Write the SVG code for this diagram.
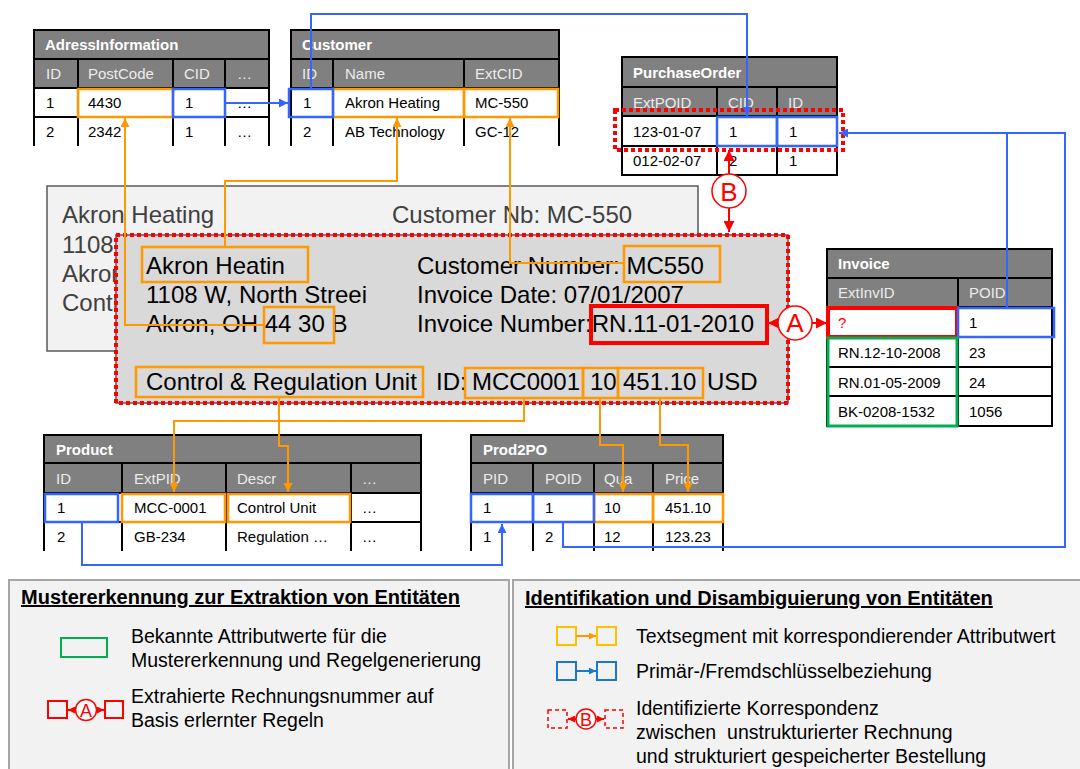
<svg xmlns="http://www.w3.org/2000/svg" width="1080" height="769" viewBox="0 0 1080 769">
<style>
text{font-family:"Liberation Sans",Arial,sans-serif}
.tt{font-size:15px;font-weight:bold;fill:#fff}
.th{font-size:15px;fill:#ececec}
.tc{font-size:15px;fill:#000}
.hd{fill:#808080}
.bd{fill:#fff}
.gl{stroke:#000;stroke-width:2;fill:none}
.or{fill:none;stroke:#ff9900;stroke-width:2.5}
.bl{fill:none;stroke:#3366ff;stroke-width:2.5}
.co{fill:none;stroke:#ff9900;stroke-width:2}
.cb{fill:none;stroke:#3366ff;stroke-width:2}
.cr{fill:none;stroke:#ff0000;stroke-width:2}
.doc{font-size:24px;fill:#000}
.bk{font-size:24px;fill:#404040}
.lg{font-size:19.5px;fill:#000}
.lt{font-size:20px;font-weight:bold;fill:#000;text-decoration:underline}
.dot{fill:none;stroke:#ff0000;stroke-width:4;stroke-dasharray:4 3}
</style>
<defs>
<marker id="ao" viewBox="0 0 10 10" refX="10" refY="5" markerWidth="9" markerHeight="9" markerUnits="userSpaceOnUse" orient="auto"><path d="M0,0 L10,5 L0,10 z" fill="#ff9900"/></marker>
<marker id="ab" viewBox="0 0 10 10" refX="10" refY="5" markerWidth="9" markerHeight="9" markerUnits="userSpaceOnUse" orient="auto"><path d="M0,0 L10,5 L0,10 z" fill="#3366ff"/></marker>
<marker id="ar" viewBox="0 0 10 10" refX="10" refY="5" markerWidth="11" markerHeight="11" markerUnits="userSpaceOnUse" orient="auto"><path d="M0,0 L10,5 L0,10 z" fill="#ff0000"/></marker>
<marker id="aos" viewBox="0 0 10 10" refX="10" refY="5" markerWidth="7" markerHeight="7" markerUnits="userSpaceOnUse" orient="auto"><path d="M0,0 L10,5 L0,10 z" fill="#ff9900"/></marker>
<marker id="abs" viewBox="0 0 10 10" refX="10" refY="5" markerWidth="7" markerHeight="7" markerUnits="userSpaceOnUse" orient="auto"><path d="M0,0 L10,5 L0,10 z" fill="#1f77c8"/></marker>
<marker id="ars" viewBox="0 0 10 10" refX="10" refY="5" markerWidth="7" markerHeight="7" markerUnits="userSpaceOnUse" orient="auto"><path d="M0,0 L10,5 L0,10 z" fill="#ff0000"/></marker>
</defs>
<rect width="1080" height="769" fill="#fff"/>

<!-- Invoice documents -->
<g id="invoice-doc-back">
<rect x="47" y="186" width="651" height="165" fill="#f2f2f2" stroke="#595959" stroke-width="1.5"/>
<text class="bk" x="62" y="223">Akron Heating</text>
<text class="bk" x="392" y="223">Customer Nb: MC-550</text>
<text class="bk" x="62" y="252.5">1108</text>
<text class="bk" x="62" y="282">Akron</text>
<text class="bk" x="62" y="311">Contr</text>
</g>
<g id="invoice-doc">
<rect x="116" y="235" width="672" height="168" fill="#d9d9d9" stroke="#595959" stroke-width="1.5"/>
<rect class="dot" x="116" y="235" width="672" height="168"/>
<text class="doc" x="146" y="273.5">Akron Heatin</text>
<text class="doc" x="146" y="302.5">1108 W, North Streei</text>
<text class="doc" x="146" y="332">Akron, OH 44 30 B</text>
<text class="doc" x="146" y="390">Control &amp; Regulation Unit</text>
<text class="doc" x="417" y="273.5">Customer Number: MC550</text>
<text class="doc" x="417" y="302.5">Invoice Date: 07/01/2007</text>
<text class="doc" x="417" y="332">Invoice Number:RN.11-01-2010</text>
<text class="doc" x="436" y="390">ID:</text>
<text class="doc" x="472" y="390">MCC0001</text>
<text class="doc" x="590" y="390">10</text>
<text class="doc" x="623" y="390">451.10</text>
<text class="doc" x="707" y="390">USD</text>
<rect class="or" x="142" y="247" width="166" height="35"/>
<rect class="or" x="264" y="307" width="70" height="36"/>
<rect class="or" x="136" y="367" width="287" height="30"/>
<rect class="or" x="624" y="246" width="96" height="36"/>
<rect class="or" x="465" y="368" width="118" height="30"/>
<rect class="or" x="583" y="368" width="35" height="30"/>
<rect class="or" x="618" y="368" width="85" height="30"/>
<rect x="591" y="306" width="176" height="37" fill="none" stroke="#ff0000" stroke-width="4"/>
</g>

<!-- AdressInformation -->
<g id="adressinformation">
<rect class="hd" x="34" y="30" width="235" height="58"/>
<rect class="bd" x="34" y="88" width="235" height="58"/>
<path class="gl" d="M34,146 V30 H269 V146 M34,59 H269 M34,88 H269 M34,117 H269 M78,59 V146 M173,59 V146 M225,59 V146"/>
<text class="tt" x="45" y="50">AdressInformation</text>
<text class="th" x="46" y="79">ID</text><text class="th" x="88" y="79">PostCode</text><text class="th" x="184" y="79">CID</text><text class="th" x="237" y="79">…</text>
<text class="tc" x="46" y="108">1</text><text class="tc" x="88" y="108">4430</text><text class="tc" x="185" y="108">1</text><text class="tc" x="237" y="108">…</text>
<text class="tc" x="46" y="137">2</text><text class="tc" x="88" y="137">2342</text><text class="tc" x="185" y="137">1</text><text class="tc" x="237" y="137">…</text>
<rect class="or" x="78" y="89" width="95" height="28"/>
<rect class="bl" x="173" y="89" width="52" height="28"/>
</g>

<!-- Customer -->
<g id="customer">
<rect class="hd" x="291" y="30" width="268" height="58"/>
<rect class="bd" x="291" y="88" width="268" height="58"/>
<path class="gl" d="M291,146 V30 H559 V146 M291,59 H559 M291,88 H559 M291,117 H559 M333,59 V146 M464,59 V146"/>
<text class="tt" x="302" y="50">Customer</text>
<text class="th" x="302" y="79">ID</text><text class="th" x="345" y="79">Name</text><text class="th" x="475" y="79">ExtCID</text>
<text class="tc" x="303" y="108">1</text><text class="tc" x="345" y="108">Akron Heating</text><text class="tc" x="475" y="108">MC-550</text>
<text class="tc" x="303" y="137">2</text><text class="tc" x="345" y="137">AB Technology</text><text class="tc" x="475" y="137">GC-12</text>
<rect class="or" x="333" y="89" width="131" height="28"/>
<rect class="or" x="464" y="89" width="94" height="28"/>
<rect class="bl" x="289" y="89" width="44" height="28"/>
</g>

<!-- PurchaseOrder -->
<g id="purchaseorder">
<rect class="hd" x="622" y="57" width="215" height="59"/>
<rect class="bd" x="622" y="116" width="215" height="59"/>
<path class="gl" d="M622,57 H837 V175 H622 Z M622,87 H837 M622,116 H837 M622,146 H837 M717,87 V175 M777,87 V175"/>
<text class="tt" x="633" y="78">PurchaseOrder</text>
<text class="th" x="633" y="108">ExtPOID</text><text class="th" x="728" y="108">CID</text><text class="th" x="788" y="108">ID</text>
<text class="tc" x="633" y="137">123-01-07</text><text class="tc" x="729" y="137">1</text><text class="tc" x="789" y="137">1</text>
<text class="tc" x="633" y="166">012-02-07</text><text class="tc" x="729" y="166">2</text><text class="tc" x="789" y="166">1</text>
<rect class="bl" x="717" y="117" width="60" height="29"/>
<rect class="bl" x="777" y="117" width="60" height="29"/>
<rect class="dot" x="615" y="110" width="228" height="40"/>
</g>

<!-- Invoice table -->
<g id="invoice-table">
<rect class="hd" x="827" y="249" width="225" height="58"/>
<rect class="bd" x="827" y="307" width="225" height="119"/>
<path class="gl" d="M827,249 H1052 V426 H827 Z M827,278 H1052 M827,307 H1052 M827,337 H1052 M827,367 H1052 M827,396 H1052 M958,278 V426"/>
<text class="tt" x="838" y="269">Invoice</text>
<text class="th" x="838" y="298">ExtInvID</text><text class="th" x="969" y="298">POID</text>
<text class="tc" x="838" y="328" fill="#ff0000" style="fill:#ff0000">?</text><text class="tc" x="969" y="328">1</text>
<text class="tc" x="838" y="358">RN.12-10-2008</text><text class="tc" x="969" y="358">23</text>
<text class="tc" x="838" y="388">RN.01-05-2009</text><text class="tc" x="969" y="388">24</text>
<text class="tc" x="838" y="417">BK-0208-1532</text><text class="tc" x="969" y="417">1056</text>
<rect x="828" y="308" width="129" height="29" fill="none" stroke="#ff0000" stroke-width="4"/>
<rect class="bl" x="958" y="308" width="96" height="29"/>
<rect x="828" y="338" width="129" height="88" fill="none" stroke="#00b050" stroke-width="3"/>
</g>

<!-- Product -->
<g id="product">
<rect class="hd" x="44" y="435" width="377" height="58"/>
<rect class="bd" x="44" y="493" width="377" height="58"/>
<path class="gl" d="M44,551 V435 H421 V551 M44,463 H421 M44,493 H421 M44,522 H421 M122,463 V551 M226,463 V551 M351,463 V551"/>
<text class="tt" x="56" y="455">Product</text>
<text class="th" x="56" y="484">ID</text><text class="th" x="134" y="484">ExtPID</text><text class="th" x="237" y="484">Descr</text><text class="th" x="362" y="484">…</text>
<text class="tc" x="57" y="513">1</text><text class="tc" x="134" y="513">MCC-0001</text><text class="tc" x="237" y="513">Control Unit</text><text class="tc" x="362" y="513">…</text>
<text class="tc" x="57" y="542">2</text><text class="tc" x="134" y="542">GB-234</text><text class="tc" x="237" y="542">Regulation …</text><text class="tc" x="362" y="542">…</text>
<rect class="or" x="122" y="494" width="103" height="28"/>
<rect class="or" x="228" y="494" width="122" height="28"/>
<rect class="bl" x="45" y="494" width="73" height="28"/>
</g>

<!-- Prod2PO -->
<g id="prod2po">
<rect class="hd" x="471" y="435" width="252" height="58"/>
<rect class="bd" x="471" y="493" width="252" height="58"/>
<path class="gl" d="M471,551 V435 H723 V551 M471,463 H723 M471,493 H723 M471,522 H723 M533,463 V551 M594,463 V551 M653,463 V551"/>
<text class="tt" x="483" y="455">Prod2PO</text>
<text class="th" x="483" y="484">PID</text><text class="th" x="545" y="484">POID</text><text class="th" x="604" y="484">Qua</text><text class="th" x="665" y="484">Price</text>
<text class="tc" x="483" y="513">1</text><text class="tc" x="545" y="513">1</text><text class="tc" x="604" y="513">10</text><text class="tc" x="665" y="513">451.10</text>
<text class="tc" x="483" y="542">1</text><text class="tc" x="545" y="542">2</text><text class="tc" x="604" y="542">12</text><text class="tc" x="665" y="542">123.23</text>
<rect class="or" x="594" y="494" width="59" height="28"/>
<rect class="or" x="653" y="494" width="70" height="28"/>
<rect class="bl" x="471" y="494" width="62" height="28"/>
<rect class="bl" x="533" y="494" width="61" height="28"/>
</g>

<!-- Connectors -->
<g id="connectors">
<path class="co" d="M264,325 H125 V118" marker-end="url(#ao)"/>
<path class="co" d="M225,247 V181 H397 V118" marker-end="url(#ao)"/>
<path class="co" d="M624,263 H510 V118" marker-end="url(#ao)"/>
<path class="co" d="M524,398 V421 H174 V492" marker-end="url(#ao)"/>
<path class="co" d="M279,397 V446 H288 V492" marker-end="url(#ao)"/>
<path class="co" d="M600,398 V445 H623 V492" marker-end="url(#ao)"/>
<path class="co" d="M660,398 V445 H688 V492" marker-end="url(#ao)"/>
<path class="cb" d="M225,103 H288" marker-end="url(#ab)"/>
<path class="cb" d="M311,89 V14 H747 V116" marker-end="url(#ab)"/>
<path class="cb" d="M82,522 V565 H502 V524" marker-end="url(#ab)"/>
<path class="cb" d="M563,522 V547 H1065 V133 H839" marker-end="url(#ab)"/>
<path class="cb" d="M1007,308 V133"/>
<path class="cr" d="M778,323 H768" marker-end="url(#ar)"/>
<path class="cr" d="M812,323 H827" marker-end="url(#ar)"/>
<path class="cr" d="M729,174 V150" marker-end="url(#ar)"/>
<path class="cr" d="M729,208 V232" marker-end="url(#ar)"/>
</g>
<g id="marker-a">
<circle cx="795" cy="323" r="17" fill="#fff" stroke="#ff0000" stroke-width="1.5"/>
<text x="795" y="332" text-anchor="middle" font-size="26" fill="#ff0000">A</text>
</g>
<g id="marker-b">
<circle cx="729" cy="191" r="17" fill="#fff" stroke="#ff0000" stroke-width="1.5"/>
<text x="729" y="200.5" text-anchor="middle" font-size="26" fill="#ff0000">B</text>
</g>

<!-- Legend -->
<g id="legend-left">
<rect x="9" y="580" width="500" height="200" fill="#f2f2f2" stroke="#a6a6a6" stroke-width="2"/>
<text class="lt" x="21" y="604">Mustererkennung zur Extraktion von Entitäten</text>
<rect x="61" y="638" width="46" height="19" fill="none" stroke="#00b050" stroke-width="2"/>
<text class="lg" x="131" y="643">Bekannte Attributwerte für die</text>
<text class="lg" x="131" y="667">Mustererkennung und Regelgenerierung</text>
<rect x="48" y="701" width="19" height="17" fill="none" stroke="#ff0000" stroke-width="2"/>
<rect x="105" y="701" width="18" height="17" fill="none" stroke="#ff0000" stroke-width="2"/>
<path class="cr" d="M76,710 H68" marker-end="url(#ars)"/>
<path class="cr" d="M96,710 H104" marker-end="url(#ars)"/>
<circle cx="86" cy="710" r="10.5" fill="#fff" stroke="#ff0000" stroke-width="1.5"/>
<text x="86" y="717" text-anchor="middle" font-size="18" fill="#ff0000">A</text>
<text class="lg" x="131" y="703">Extrahierte Rechnungsnummer auf</text>
<text class="lg" x="131" y="727">Basis erlernter Regeln</text>
</g>
<g id="legend-right">
<rect x="513" y="580" width="580" height="200" fill="#f2f2f2" stroke="#a6a6a6" stroke-width="2"/>
<text class="lt" x="525" y="605">Identifikation und Disambiguierung von Entitäten</text>
<rect x="557" y="627" width="19" height="18" fill="none" stroke="#ffc000" stroke-width="2"/>
<rect x="597" y="627" width="19" height="18" fill="none" stroke="#ffc000" stroke-width="2"/>
<path d="M576,636 H596" fill="none" stroke="#ff9900" stroke-width="2" marker-end="url(#aos)"/>
<text class="lg" x="636" y="643">Textsegment mit korrespondierender Attributwert</text>
<rect x="557" y="662" width="19" height="18" fill="none" stroke="#1f77c8" stroke-width="2"/>
<rect x="597" y="662" width="19" height="18" fill="none" stroke="#1f77c8" stroke-width="2"/>
<path d="M576,671 H596" fill="none" stroke="#1f77c8" stroke-width="2" marker-end="url(#abs)"/>
<text class="lg" x="636" y="678">Primär-/Fremdschlüsselbeziehung</text>
<rect x="548" y="710" width="19" height="18" fill="none" stroke="#ff0000" stroke-width="1.5" stroke-dasharray="4 3"/>
<rect x="605" y="710" width="18" height="18" fill="none" stroke="#ff0000" stroke-width="1.5" stroke-dasharray="4 3"/>
<path class="cr" d="M576,719 H568" marker-end="url(#ars)"/>
<path class="cr" d="M596,719 H604" marker-end="url(#ars)"/>
<circle cx="586" cy="719" r="10" fill="#fff" stroke="#ff0000" stroke-width="1.5"/>
<text x="586" y="726" text-anchor="middle" font-size="18" fill="#ff0000">B</text>
<text class="lg" x="636" y="715">Identifizierte Korrespondenz</text>
<text class="lg" x="636" y="739" xml:space="preserve">zwischen  unstrukturierter Rechnung</text>
<text class="lg" x="636" y="763">und strukturiert gespeicherter Bestellung</text>
</g>
</svg>
